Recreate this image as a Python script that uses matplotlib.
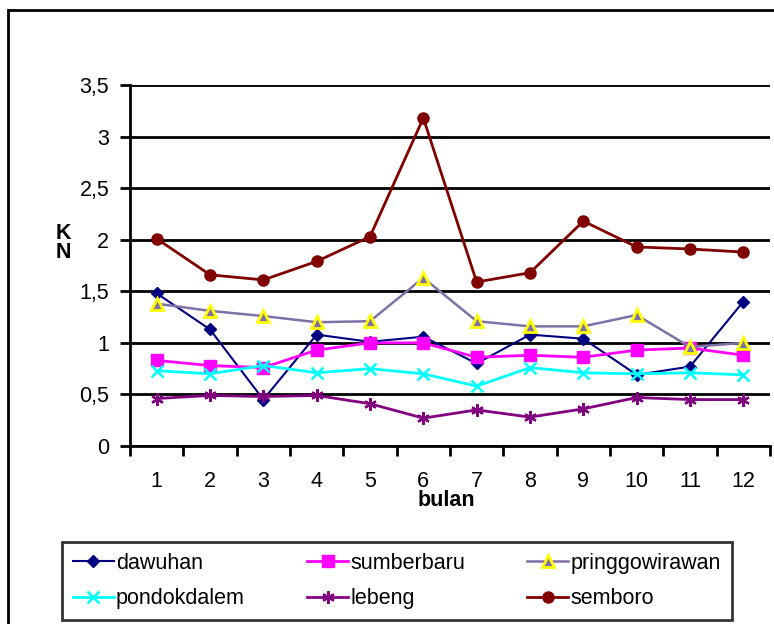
import matplotlib.pyplot as plt
from matplotlib.patches import Rectangle
from matplotlib.ticker import FixedLocator, FuncFormatter

plt.rcParams['font.family'] = ['Liberation Sans', 'DejaVu Sans']

bulan = [1, 2, 3, 4, 5, 6, 7, 8, 9, 10, 11, 12]

dawuhan = [1.48, 1.13, 0.45, 1.08, 1.01, 1.06, 0.80, 1.08, 1.04, 0.69, 0.77, 1.40]
sumberbaru = [0.83, 0.78, 0.76, 0.93, 1.00, 1.00, 0.86, 0.88, 0.86, 0.93, 0.95, 0.88]
pringgowirawan = [1.38, 1.31, 1.26, 1.20, 1.21, 1.63, 1.21, 1.16, 1.16, 1.27, 0.96, 1.00]
pondokdalem = [0.73, 0.70, 0.78, 0.71, 0.75, 0.70, 0.58, 0.76, 0.71, 0.70, 0.71, 0.69]
lebeng = [0.46, 0.49, 0.48, 0.49, 0.41, 0.27, 0.35, 0.28, 0.36, 0.47, 0.45, 0.45]
semboro = [2.01, 1.66, 1.61, 1.79, 2.03, 3.18, 1.59, 1.68, 2.18, 1.93, 1.91, 1.88]

FS = 15.5

fig = plt.figure(figsize=(7.74, 6.24), dpi=100)
ax = fig.add_axes([130 / 774, 1 - 446 / 624, 640 / 774, 361 / 624])

# chart frame around everything
fig.patches.append(Rectangle((8 / 774, -0.1), 1.2, 1.1 - 10 / 624,
                             transform=fig.transFigure, fill=False,
                             edgecolor='black', linewidth=2, zorder=0))

l1, = ax.plot(bulan, dawuhan, color='#000080', lw=1.5, marker='D', ms=6, label='dawuhan')
l2, = ax.plot(bulan, sumberbaru, color='#FF00FF', lw=2, marker='s', ms=8, label='sumberbaru')
l3, = ax.plot(bulan, pringgowirawan, color='#8070A8', lw=1.8, marker='^', ms=8,
              markerfacecolor='#8070A8', markeredgecolor='#FFFF00', mew=2,
              label='pringgowirawan')
l4, = ax.plot(bulan, pondokdalem, color='#00FFFF', lw=2, marker='x', ms=8, mew=1.8,
              label='pondokdalem')
l5, = ax.plot(bulan, lebeng, color='#800080', lw=2, marker=(6, 2, 0), ms=9, mew=1.6,
              label='lebeng')
l6, = ax.plot(bulan, semboro, color='#800000', lw=2, marker='o', ms=8, label='semboro')

ax.set_xlim(0.5, 12.5)
ax.set_ylim(0, 3.5)

ax.yaxis.set_major_locator(FixedLocator([0, 0.5, 1, 1.5, 2, 2.5, 3, 3.5]))
ax.yaxis.set_major_formatter(FuncFormatter(lambda v, p: ('%g' % v).replace('.', ',')))
ax.grid(axis='y', color='black', lw=2)
ax.set_axisbelow(True)

# ticks on category boundaries, labels centred on each month
ax.xaxis.set_major_locator(FixedLocator([i + 0.5 for i in range(13)]))
ax.xaxis.set_major_formatter(FuncFormatter(lambda v, p: ''))
ax.xaxis.set_minor_locator(FixedLocator(bulan))
ax.xaxis.set_minor_formatter(FuncFormatter(lambda v, p: '%d' % v))
ax.tick_params(axis='x', which='major', length=7, width=2, direction='out')
ax.tick_params(axis='x', which='minor', length=0, pad=18, labelsize=FS)
ax.tick_params(axis='y', length=7, width=2, direction='out', labelsize=FS, pad=8)

for side in ['top', 'right']:
    ax.spines[side].set_visible(False)
for side in ['left', 'bottom']:
    ax.spines[side].set_linewidth(2)

fig.text(446 / 774, 1 - 501 / 624, 'bulan', fontsize=FS, fontweight='bold',
         ha='center', va='center')
fig.text(63 / 774, 1 - 243 / 624, 'K\nN', fontsize=FS, fontweight='bold',
         ha='center', va='center', linespacing=0.9)

# legend fills row by row: matplotlib fills by column, so reorder
handles = [l1, l4, l2, l5, l3, l6]
leg = fig.legend(handles=handles, labels=[h.get_label() for h in handles],
                 loc='upper left', bbox_to_anchor=(62 / 774, 1 - 542 / 624),
                 ncol=3, fontsize=FS, frameon=True, fancybox=False,
                 edgecolor='black', handlelength=1.9, handletextpad=0.1,
                 borderpad=0.5, borderaxespad=0, columnspacing=2.9,
                 labelspacing=0.68)
leg.get_frame().set_linewidth(2)

fig.savefig('out.png', dpi=100)
